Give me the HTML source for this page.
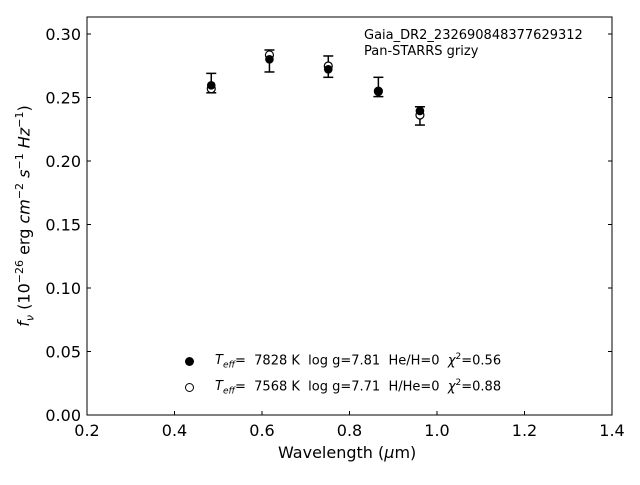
<!DOCTYPE html>
<html><head><meta charset="utf-8"><style>
body{margin:0;background:#fff;}
svg text{font-family:"DejaVu Sans","Liberation Sans",sans-serif;}
</style></head><body>
<svg id="chart" width="640" height="480" xmlns="http://www.w3.org/2000/svg"></svg>
<script>
const wavelengths=[0.484,0.617,0.7515,0.866,0.961];
const modelFlux=[0.2596,0.2801,0.2722,0.2545,0.2394];
const observedFlux=[0.2569,0.2835,0.2748,0.2550,0.2362];
const errUpper=[0.269,0.2874,0.2827,0.2659,0.2427];
const errLower=[0.2537,0.2701,0.2659,0.2507,0.2283];
const xTicks=[0.2,0.4,0.6,0.8,1.0,1.2,1.4];
const yTicks=[0.00,0.05,0.10,0.15,0.20,0.25,0.30];
const L=87,R=612,T=17,B=415;
const xs=v=>L+(v-0.2)/(1.2)*(R-L);
const ys=v=>B-v*1270;
const svg=document.getElementById('chart');
const NS='http://www.w3.org/2000/svg';
function mk(tag,attrs,parent){const e=document.createElementNS(NS,tag);for(const k in attrs)e.setAttribute(k,attrs[k]);(parent||svg).appendChild(e);return e;}
const frame=mk('rect',{x:L,y:T,width:R-L,height:B-T,fill:'none',stroke:'#000','stroke-width':1});


xTicks.forEach(t=>{
  const x=xs(t);
  const tk=mk('line',{x1:x,x2:x,y1:B,y2:B-4,stroke:'#000'});
  
  
  const lb=mk('text',{x:x,y:B+21,'text-anchor':'middle','font-size':16});
  lb.textContent=t.toFixed(1);
  
  
});
yTicks.forEach(t=>{
  const y=ys(t);
  const tk=mk('line',{x1:L,x2:L+4,y1:y,y2:y,stroke:'#000'});
  
  
  const tk2=mk('line',{x1:R,x2:R-4,y1:y,y2:y,stroke:'#000'});
  
  
  const lb=mk('text',{x:L-6,y:y+6,'text-anchor':'end','font-size':16});
  lb.textContent=t.toFixed(2);
  
  
});
wavelengths.forEach((w,i)=>{
  const x=xs(w),yt=ys(errUpper[i]),yb=ys(errLower[i]);
  const g=mk('g',{stroke:'#000','stroke-width':1.5});
  
  
  mk('line',{x1:x,x2:x,y1:yt,y2:yb},g);
  mk('line',{x1:x-5,x2:x+5,y1:yt,y2:yt},g);
  mk('line',{x1:x-5,x2:x+5,y1:yb,y2:yb},g);
  const o=mk('circle',{cx:x,cy:ys(observedFlux[i]),r:4,fill:'#fff',stroke:'#000','stroke-width':1.2});
  
  
  const f=mk('circle',{cx:x,cy:ys(modelFlux[i]),r:4.3,fill:'#000'});
  
  
});
</script>
<div style="position:absolute;left:364px;top:28px;font:13px 'DejaVu Sans','Liberation Sans',sans-serif;line-height:16px;">Gaia_DR2_232690848377629312<br>Pan-STARRS grizy</div>
<div style="position:absolute;left:278px;top:443px;font:16px 'DejaVu Sans','Liberation Sans',sans-serif;">Wavelength (<i>μ</i>m)</div>
<div style="position:absolute;left:25px;top:216px;transform:translate(-50%,-50%) rotate(-90deg);white-space:nowrap;font:16px 'DejaVu Sans','Liberation Sans',sans-serif;"><i>f<sub style="font-size:11px">ν</sub></i> (10<sup style="font-size:11px">−26</sup> erg <i>cm</i><sup style="font-size:11px">−2</sup> <i>s</i><sup style="font-size:11px">−1</sup> <i>Hz</i><sup style="font-size:11px">−1</sup>)</div>
<div style="position:absolute;left:180px;top:352px;font:13px 'DejaVu Sans','Liberation Sans',sans-serif;">
<div style="height:26px;position:relative;"><span style="position:absolute;left:5px;top:5px;width:9px;height:9px;border-radius:50%;background:#000"></span><span style="position:absolute;left:35px;top:0;white-space:nowrap"><i>T<sub style="font-size:9px">eff</sub></i>=&nbsp; 7828 K&nbsp; log g=7.81&nbsp; He/H=0&nbsp; <i>χ</i><sup style="font-size:9px">2</sup>=0.56</span></div>
<div style="height:26px;position:relative;"><span style="position:absolute;left:5px;top:5px;width:7px;height:7px;border-radius:50%;border:1.2px solid #000"></span><span style="position:absolute;left:35px;top:0;white-space:nowrap"><i>T<sub style="font-size:9px">eff</sub></i>=&nbsp; 7568 K&nbsp; log g=7.71&nbsp; H/He=0&nbsp; <i>χ</i><sup style="font-size:9px">2</sup>=0.88</span></div>
</div>
</body></html>
